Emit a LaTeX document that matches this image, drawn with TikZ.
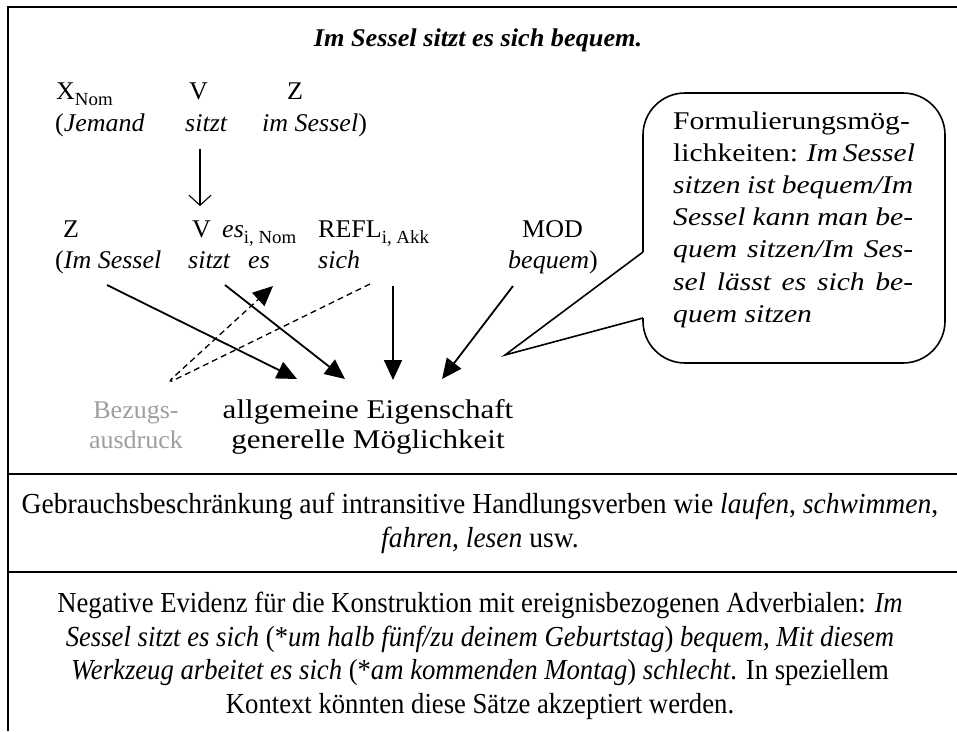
\documentclass[tikz,border=0pt]{standalone}
\usepackage{fontspec}
\setmainfont{Liberation Serif}
\newfontfamily\upfont[FakeStretch=1.02]{Liberation Serif}
\newfontfamily\bubfont[FakeStretch=1.16]{Liberation Serif}
\newfontfamily\labfont[FakeStretch=1.15]{Liberation Serif}
\newfontfamily\titlefont[FakeStretch=1.03]{Liberation Serif}
\newfontfamily\midfont[FakeStretch=0.95]{Liberation Serif}
\newfontfamily\lowfont[FakeStretch=0.92]{Liberation Serif}
\usetikzlibrary{arrows.meta}
\newcommand\mysub[1]{\raisebox{-0.25em}{\fontsize{18.5}{18.5}\selectfont #1}}
\newcommand\justline[1]{\makebox[240pt][s]{#1}}
\begin{document}
\begin{tikzpicture}[x=1pt,y=-1pt,
  up/.style={font=\upfont\fontsize{25.5}{29.4}\selectfont, inner sep=0pt, anchor=base west},
  lab/.style={font=\labfont\fontsize{27}{29.5}\selectfont, inner sep=0pt, align=center, anchor=base},
  mid/.style={font=\midfont\fontsize{29}{33.5}\selectfont, inner sep=0pt, align=center, anchor=base},
  low/.style={font=\lowfont\fontsize{29}{33.5}\selectfont, inner sep=0pt, align=center, anchor=base},
  frame/.style={line width=2.2pt},
  arr/.style={line width=1.8pt, -{Triangle[length=20pt,width=18pt]}},
  darr/.style={line width=1.3pt, dash pattern=on 6pt off 4pt, -{Triangle[length=20pt,width=18pt]}},
  thinarr/.style={line width=1.1pt, -{Straight Barb[length=10pt,width=22pt]}},
  bubble/.style={line width=1.6pt}]
\useasboundingbox (0,0) rectangle (957,731);
% frame
\draw[frame] (8,731) -- (8,7) -- (957,7);
\draw[frame] (8,474) -- (957,474);
\draw[frame] (8,572) -- (957,572);
% title
\node[inner sep=0pt, anchor=base, font=\titlefont\fontsize{25.5}{29.4}\selectfont] (title) at (478,46) {\textbf{\textit{Im Sessel sitzt es sich bequem.}}};
% row 1
\node[up] (xnom) at (56,99) {X\mysub{Nom}};
\node[up] (v1) at (189,99) {V};
\node[up] (z1) at (287,99) {Z};
\node[up] (jemand) at (55,131) {(\textit{Jemand}};
\node[up] (sitzt1) at (185,131) {\textit{sitzt}};
\node[up] (imsessel1) at (262,131) {\textit{im Sessel})};
% row 2
\node[up] (z2) at (63,237) {Z};
\node[up] (v2) at (192,237) {V};
\node[up] (esnom) at (222,237) {\textit{es}\mysub{i, Nom}};
\node[up] (refl) at (318,237) {REFL\mysub{i, Akk}};
\node[up] (mod) at (522,237) {MOD};
\node[up] (imsessel2) at (55,268) {(\textit{Im Sessel}};
\node[up] (sitzt2) at (188,268) {\textit{sitzt}};
\node[up] (es2) at (248,268) {\textit{es}};
\node[up] (sich) at (318,268) {\textit{sich}};
\node[up] (bequem) at (508,268) {\textit{bequem})};
% bottom labels
\node[up, anchor=base, align=center, text=black!38] (bezug) at (136,448) {Bezugs-\\ausdruck};
\node[lab] (allg) at (368,448) {allgemeine Eigenschaft\\generelle Möglichkeit};
% down arrow
\coordinate (da) at (200,149);
\coordinate (db) at (200,206);
\draw[thinarr] (da) -- (db);
% arrow ends
\coordinate (t1) at (107,285); \coordinate (h1) at (297,379);
\coordinate (t2) at (225,285); \coordinate (h2) at (345,379);
\coordinate (t3) at (393,286); \coordinate (h3) at (393,380);
\coordinate (t4) at (513,286); \coordinate (h4) at (442,379);
\coordinate (d0) at (370,284); \coordinate (dl) at (166,384); \coordinate (d1) at (273,286);
\draw[arr] (t1) -- (h1);
\draw[arr] (t2) -- (h2);
\draw[arr] (t3) -- (h3);
\draw[arr] (t4) -- (h4);
\draw[darr, rounded corners=9pt] (d0) -- (dl) -- (d1);
% callout
\coordinate (ctip) at (505,355);
\draw[bubble, rounded corners=42pt] (643,318) -- (643,363) -- (945,363) -- (945,93) -- (643,93) -- (643,252);
\draw[bubble, line join=miter] (643,252) -- (ctip) -- (643,318);
\node[inner sep=0pt, anchor=base west, font=\bubfont] (callout) at (673,129) {\parbox[t]{240pt}{\fontsize{25.5}{32.2}\selectfont
\makebox[240pt][l]{Formulierungsmög-}\\
\justline{lichkeiten: \textit{Im Sessel}}\\
\justline{\textit{sitzen ist bequem/Im}}\\
\justline{\textit{Sessel kann man be-}}\\
\justline{\textit{quem sitzen/Im Ses-}}\\
\justline{\textit{sel lässt es sich be-}}\\
\makebox[240pt][l]{\textit{quem sitzen}}}};
% middle text
\node[mid] (gebrauch) at (480,547) {Gebrauchsbeschränkung auf intransitive Handlungsverben wie \textit{laufen}, \textit{schwimmen},\\\textit{fahren}, \textit{lesen} usw.};
% bottom text
\node[low] (neg) at (480,713) {Negative Evidenz für die Konstruktion mit ereignisbezogenen Adverbialen: \textit{Im}\\
\textit{Sessel sitzt es sich} (*\textit{um halb fünf/zu deinem Geburtstag}) \textit{bequem, Mit diesem}\\
\textit{Werkzeug arbeitet es sich} (*\textit{am kommenden Montag}) \textit{schlecht}. In speziellem\\
Kontext könnten diese Sätze akzeptiert werden.};
\end{tikzpicture}
\end{document}
